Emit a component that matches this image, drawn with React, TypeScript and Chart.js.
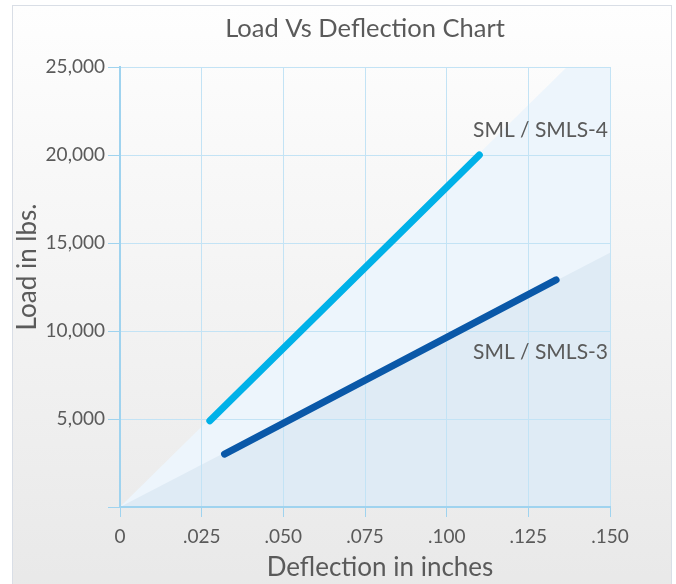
import React, { useEffect, useRef } from 'react';
import { Chart, registerables } from 'chart.js';

Chart.register(...registerables);

const chartTitle = 'Load Vs Deflection Chart';
const xAxisTitle = 'Deflection in inches';
const yAxisTitle = 'Load in lbs.';
const xTickLabels = ['0', '.025', '.050', '.075', '.100', '.125', '.150'];
const yTickLabels = ['', '5,000', '10,000', '15,000', '20,000', '25,000'];

const seriesNames = ['SML / SMLS-4', 'SML / SMLS-3'];
const sml4Deflection = [0.0275, 0.11];
const sml4Load = [4900, 20000];
const sml3Deflection = [0.032, 0.1335];
const sml3Load = [3000, 12900];

const upperBandDeflection = [0, 0.1368, 0.15];
const upperBandLoad = [0, 25000, 25000];
const lowerBandDeflection = [0, 0.15];
const lowerBandLoad = [0, 14450];

const seriesLabelDeflection = [0.15, 0.15];
const seriesLabelLoad = [21400, 8800];

const FONT = 'Lato';
const TEXT = '#5a5a5a';

const pts = (xs: number[], ys: number[]) => xs.map((x, i) => ({ x, y: ys[i] }));

const textPlugin = {
  id: 'texts',
  afterDraw(chart: any) {
    const { ctx, chartArea, scales } = chart;
    const xs = scales.x;
    const ys = scales.y;
    ctx.save();
    ctx.fillStyle = TEXT;
    ctx.textBaseline = 'middle';
    ctx.textAlign = 'center';
    ctx.font = `25.5px ${FONT}`;
    ctx.fillText(chartTitle, (chartArea.left + chartArea.right) / 2, 29);
    ctx.font = `26px ${FONT}`;
    ctx.fillText(xAxisTitle, (chartArea.left + chartArea.right) / 2 + 15, 568);
    ctx.save();
    ctx.translate(28, (chartArea.top + chartArea.bottom) / 2 - 20);
    ctx.rotate(-Math.PI / 2);
    ctx.fillText(yAxisTitle, 0, 0);
    ctx.restore();
    ctx.font = `21px ${FONT}`;
    ctx.textAlign = 'right';
    seriesNames.forEach((name, i) => {
      ctx.fillText(
        name,
        xs.getPixelForValue(seriesLabelDeflection[i]) - 2,
        ys.getPixelForValue(seriesLabelLoad[i])
      );
    });
    ctx.restore();
  },
};

export default function App() {
  const ref = useRef<HTMLCanvasElement | null>(null);
  useEffect(() => {
    if (!ref.current) return;
    const chart = new Chart(ref.current, {
      type: 'line',
      data: {
        datasets: [
          {
            label: seriesNames[0],
            data: pts(sml4Deflection, sml4Load),
            borderColor: '#00b1e8',
            borderWidth: 7,
            borderCapStyle: 'round',
            pointRadius: 0,
            fill: false,
          },
          {
            label: seriesNames[1],
            data: pts(sml3Deflection, sml3Load),
            borderColor: '#0a58a8',
            borderWidth: 7,
            borderCapStyle: 'round',
            pointRadius: 0,
            fill: false,
          },
          {
            label: 'lower band',
            data: pts(lowerBandDeflection, lowerBandLoad),
            borderColor: 'rgba(0,0,0,0)',
            borderWidth: 0,
            backgroundColor: '#dfebf5',
            pointRadius: 0,
            fill: 'origin',
          },
          {
            label: 'upper band',
            data: pts(upperBandDeflection, upperBandLoad),
            borderColor: 'rgba(0,0,0,0)',
            borderWidth: 0,
            backgroundColor: '#edf5fc',
            pointRadius: 0,
            fill: 'origin',
          },
        ],
      } as any,
      options: {
        responsive: false,
        animation: false,
        devicePixelRatio: 1,
        layout: { padding: { top: 67, right: 66, bottom: 0, left: 0 } },
        plugins: {
          legend: { display: false },
          tooltip: { enabled: false },
          title: { display: false },
          filler: { drawTime: 'beforeDraw' },
        } as any,
        scales: {
          x: {
            type: 'linear',
            min: 0,
            max: 0.15,
            afterFit: (s: any) => {
              s.height = 77;
            },
            ticks: {
              stepSize: 0.025,
              autoSkip: false,
              maxRotation: 0,
              padding: 8,
              color: TEXT,
              font: { family: FONT, size: 19 },
              callback: (_v: any, i: number) => xTickLabels[i],
            },
            grid: { color: '#c3e3f5', tickColor: '#9fd3ef', tickLength: 10, lineWidth: 1 },
            border: { color: '#9fd3ef', width: 2 },
          },
          y: {
            type: 'linear',
            min: 0,
            max: 25000,
            afterFit: (s: any) => {
              s.width = 120;
            },
            ticks: {
              stepSize: 5000,
              padding: 3,
              color: TEXT,
              font: { family: FONT, size: 19 },
              callback: (_v: any, i: number) => yTickLabels[i],
            },
            grid: { color: '#c3e3f5', tickColor: '#9fd3ef', tickLength: 12, lineWidth: 1 },
            border: { color: '#9fd3ef', width: 2 },
          },
        },
      } as any,
      plugins: [textPlugin],
    });
    return () => chart.destroy();
  }, []);

  return (
    <div style={{ position: 'absolute', left: 0, top: 0, width: 676, height: 584, overflow: 'hidden', background: '#ffffff' }}>
      <div
        style={{
          position: 'absolute',
          left: 12,
          top: 5,
          width: 660,
          height: 600,
          boxSizing: 'border-box',
          border: '1.5px solid #d9dee6',
          background: 'linear-gradient(to bottom, #fefefe 0%, #f2f2f2 55%, #e8e8e8 100%)',
        }}
      />
      <canvas ref={ref} width={676} height={584} style={{ position: 'absolute', left: 0, top: 0 }} />
    </div>
  );
}
